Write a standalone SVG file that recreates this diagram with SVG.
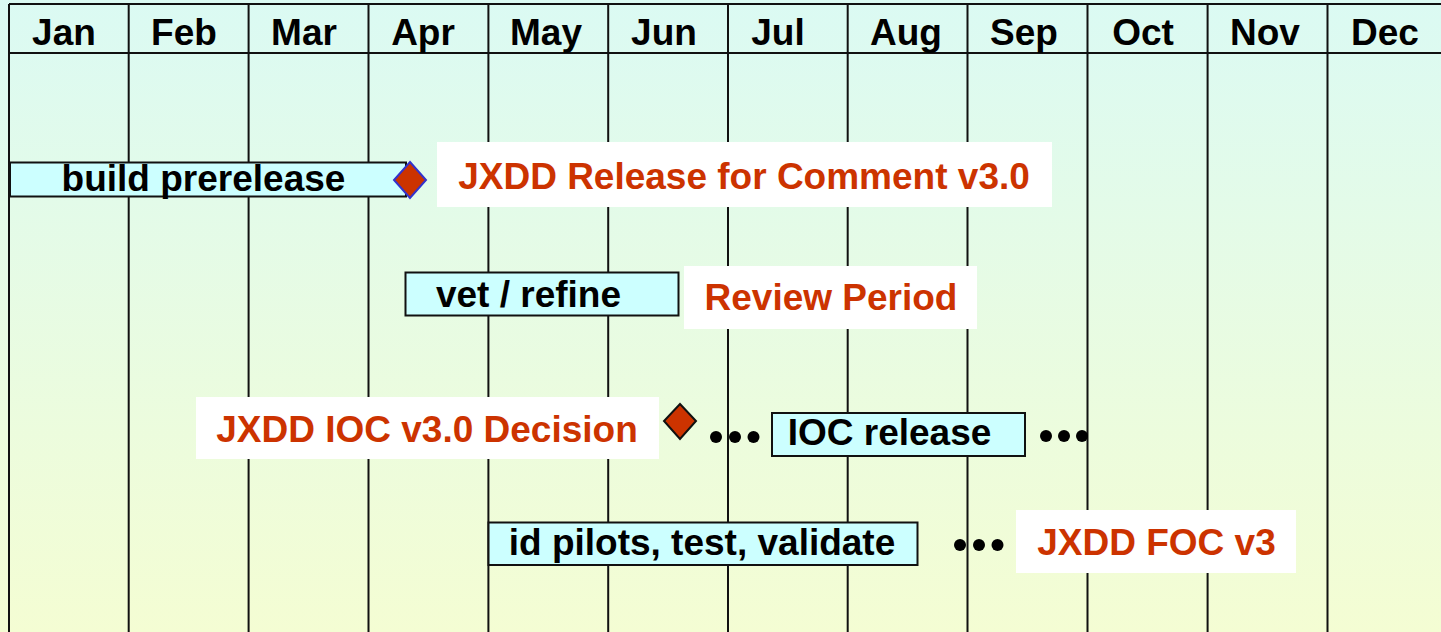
<svg xmlns="http://www.w3.org/2000/svg" width="1441" height="632" viewBox="0 0 1441 632">
  <defs>
    <linearGradient id="bg" x1="0" y1="0" x2="0" y2="1">
      <stop offset="0" stop-color="#dbfaf3"/>
      <stop offset="1" stop-color="#f4fdd3"/>
    </linearGradient>
    <style>
      .grid { stroke: #111; stroke-width: 2; fill: none; }
      .month { font-family: "Liberation Sans", Arial, sans-serif; font-weight: bold; font-size: 37px; fill: #000; text-anchor: middle; }
      .bar { fill: #ccffff; stroke: #111; stroke-width: 2; }
      .bartext { font-family: "Liberation Sans", Arial, sans-serif; font-weight: bold; font-size: 37px; fill: #000; text-anchor: middle; }
      .lblbox { fill: #ffffff; stroke: none; }
      .lbltext { font-family: "Liberation Sans", Arial, sans-serif; font-weight: bold; font-size: 37px; fill: #cc3300; text-anchor: middle; }
      .milestone { fill: #cc3300; stroke-width: 2; }
      .dot { fill: #000; }
    </style>
  </defs>
  <rect x="0" y="0" width="1441" height="632" fill="url(#bg)"/>

  <g id="grid">
    <line class="grid" x1="9" y1="4" x2="1441" y2="4"/>
    <line class="grid" x1="9" y1="53" x2="1441" y2="53"/>
    <line class="grid" x1="9" y1="4" x2="9" y2="632"/>
    <line class="grid" x1="128.7" y1="4" x2="128.7" y2="632"/>
    <line class="grid" x1="248.6" y1="4" x2="248.6" y2="632"/>
    <line class="grid" x1="368.5" y1="4" x2="368.5" y2="632"/>
    <line class="grid" x1="488.4" y1="4" x2="488.4" y2="632"/>
    <line class="grid" x1="608.2" y1="4" x2="608.2" y2="632"/>
    <line class="grid" x1="728" y1="4" x2="728" y2="632"/>
    <line class="grid" x1="847.7" y1="4" x2="847.7" y2="632"/>
    <line class="grid" x1="967.5" y1="4" x2="967.5" y2="632"/>
    <line class="grid" x1="1087.5" y1="4" x2="1087.5" y2="632"/>
    <line class="grid" x1="1207.6" y1="4" x2="1207.6" y2="632"/>
    <line class="grid" x1="1327.5" y1="4" x2="1327.5" y2="632"/>
  </g>

  <g id="months">
    <text class="month" x="64" y="45">Jan</text>
    <text class="month" x="184" y="45">Feb</text>
    <text class="month" x="304" y="45">Mar</text>
    <text class="month" x="423" y="45">Apr</text>
    <text class="month" x="546" y="45">May</text>
    <text class="month" x="664" y="45">Jun</text>
    <text class="month" x="778" y="45">Jul</text>
    <text class="month" x="906" y="45">Aug</text>
    <text class="month" x="1024" y="45">Sep</text>
    <text class="month" x="1143" y="45">Oct</text>
    <text class="month" x="1265" y="45">Nov</text>
    <text class="month" x="1385" y="45">Dec</text>
  </g>

  <g id="build-prerelease">
    <rect class="bar" x="10" y="162.5" width="396" height="34"/>
    <text class="bartext" x="203.5" y="191">build prerelease</text>
  </g>

  <g id="milestone-rfc">
    <polygon class="milestone" stroke="#3333cc" points="410,162 426,180 410,198 394,180"/>
  </g>

  <g id="label-rfc">
    <rect class="lblbox" x="437" y="142" width="615" height="65"/>
    <text class="lbltext" x="744" y="189">JXDD Release for Comment v3.0</text>
  </g>

  <g id="vet-refine">
    <rect class="bar" x="405.5" y="272.5" width="273" height="43"/>
    <text class="bartext" x="528.5" y="307">vet / refine</text>
  </g>

  <g id="label-review">
    <rect class="lblbox" x="684" y="266" width="293" height="63"/>
    <text class="lbltext" x="831" y="310">Review Period</text>
  </g>

  <g id="label-ioc-decision">
    <rect class="lblbox" x="196" y="397" width="463" height="62"/>
    <text class="lbltext" x="427" y="442">JXDD IOC v3.0 Decision</text>
  </g>

  <g id="milestone-ioc">
    <polygon class="milestone" stroke="#111" points="680,404 696,421 680,439 664,421"/>
  </g>

  <g id="ioc-release">
    <rect class="bar" x="772" y="413" width="253" height="43"/>
    <text class="bartext" x="889.5" y="445">IOC release</text>
  </g>

  <g id="id-pilots">
    <rect class="bar" x="488.5" y="522.5" width="429" height="42.5"/>
    <text class="bartext" x="702" y="555">id pilots, test, validate</text>
  </g>

  <g id="label-foc">
    <rect class="lblbox" x="1016" y="510" width="280" height="63"/>
    <text class="lbltext" x="1156.5" y="555">JXDD FOC v3</text>
  </g>

  <g id="connectors">
    <circle class="dot" cx="716" cy="437" r="6"/>
    <circle class="dot" cx="735" cy="437" r="6"/>
    <circle class="dot" cx="753.5" cy="437" r="6"/>
    <circle class="dot" cx="1046" cy="436" r="6"/>
    <circle class="dot" cx="1064" cy="436" r="6"/>
    <circle class="dot" cx="1082" cy="436" r="6"/>
    <circle class="dot" cx="960" cy="545" r="6"/>
    <circle class="dot" cx="979" cy="545" r="6"/>
    <circle class="dot" cx="997.5" cy="545" r="6"/>
  </g>
</svg>
